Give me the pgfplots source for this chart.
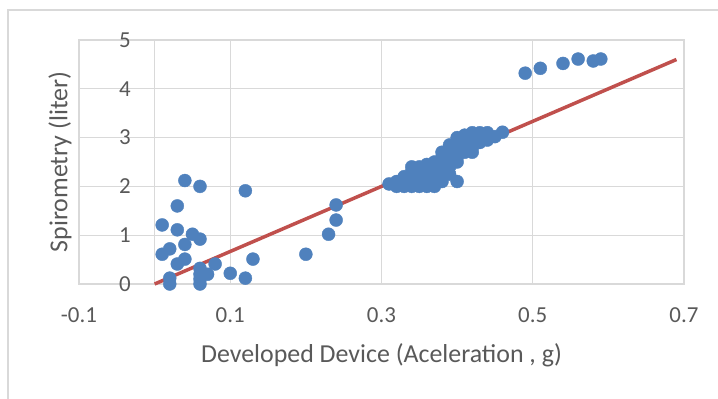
\documentclass[border=0pt]{standalone}
\usepackage{pgfplots}
\pgfplotsset{compat=1.18}
\usepackage{fontspec}
\setmainfont{Carlito}
\definecolor{xblue}{HTML}{4F81BD}
\definecolor{xred}{HTML}{C0504D}
\definecolor{xtext}{HTML}{595959}
\definecolor{xgrid}{HTML}{D9D9D9}
\begin{document}
\begin{tikzpicture}
\path[use as bounding box] (0,0) rectangle (718bp,399bp);
\draw[xgrid, line width=1.2bp] (8bp,-2bp) -- (8bp,389bp) -- (720bp,389bp);
\begin{axis}[
  at={(79bp,115bp)}, anchor=south west,
  scale only axis, width=605bp, height=244bp,
  xmin=-0.1, xmax=0.7, ymin=0, ymax=5,
  xtick={-0.1,0.1,0.3,0.5,0.7},
  xticklabels={-0.1,0.1,0.3,0.5,0.7},
  ytick={0,1,2,3,4,5},
  yticklabels={0,1,2,3,4,5},
  extra x ticks={0}, extra x tick labels={},
  extra x tick style={grid=major},
  grid=major,
  grid style={xgrid, line width=1.2bp},
  axis line style={xgrid, line width=1.2bp},
  major tick length=0pt,
  tick style={draw=none},
  xticklabel style={anchor=center, yshift=-31bp, font=\fontsize{23}{23}\selectfont, text=xtext},
  yticklabel style={anchor=east, inner sep=0pt, xshift=52bp, font=\fontsize{23}{23}\selectfont, text=xtext},
  xlabel={Developed Device (Aceleration , g)},
  ylabel={Spirometry (liter)},
  every axis x label/.style={at={(axis description cs:0.5,-0.291)}, anchor=center, font=\fontsize{26}{26}\selectfont, text=xtext},
  every axis y label/.style={at={(axis description cs:-0.0314,0.5)}, rotate=90, anchor=center, font=\fontsize{26}{26}\selectfont, text=xtext},
  clip=false,
  axis on top=false,
]
\addplot[xred, line width=3.5bp, no markers] coordinates {(0,0) (0.69,4.6)};
\addplot[only marks, mark=*, mark size=6.5bp, mark options={fill=xblue, draw=xblue}] table {
x y
0.04 2.12
0.06 2.0
0.12 1.91
0.03 1.6
0.01 1.21
0.03 1.11
0.05 1.02
0.06 0.92
0.04 0.81
0.02 0.72
0.01 0.61
0.04 0.51
0.03 0.41
0.08 0.41
0.06 0.32
0.07 0.2
0.06 0.2
0.06 0.1
0.06 0.0
0.02 0.12
0.02 0.0
0.10 0.22
0.12 0.12
0.13 0.51
0.20 0.61
0.23 1.02
0.24 1.31
0.24 1.62
0.49 4.32
0.51 4.42
0.54 4.52
0.56 4.61
0.58 4.57
0.59 4.61
0.31 2.05
0.32 2.0
0.32 2.1
0.33 2.0
0.33 2.1
0.33 2.2
0.34 2.0
0.34 2.1
0.34 2.2
0.34 2.3
0.34 2.4
0.35 2.0
0.35 2.1
0.35 2.2
0.35 2.3
0.35 2.4
0.36 2.0
0.36 2.1
0.36 2.2
0.36 2.3
0.36 2.45
0.37 2.0
0.37 2.1
0.37 2.2
0.37 2.3
0.37 2.4
0.37 2.5
0.38 2.1
0.38 2.2
0.38 2.3
0.38 2.4
0.38 2.5
0.38 2.6
0.38 2.7
0.39 2.25
0.39 2.4
0.39 2.5
0.39 2.6
0.39 2.7
0.39 2.85
0.40 2.1
0.40 2.5
0.40 2.6
0.40 2.7
0.40 2.8
0.40 3.0
0.41 2.7
0.41 2.8
0.41 2.9
0.41 3.05
0.42 2.7
0.42 2.8
0.42 2.9
0.42 3.0
0.42 3.1
0.43 2.9
0.43 3.0
0.43 3.1
0.44 2.95
0.44 3.1
0.45 3.02
0.46 3.11
};
\end{axis}
\end{tikzpicture}
\end{document}
